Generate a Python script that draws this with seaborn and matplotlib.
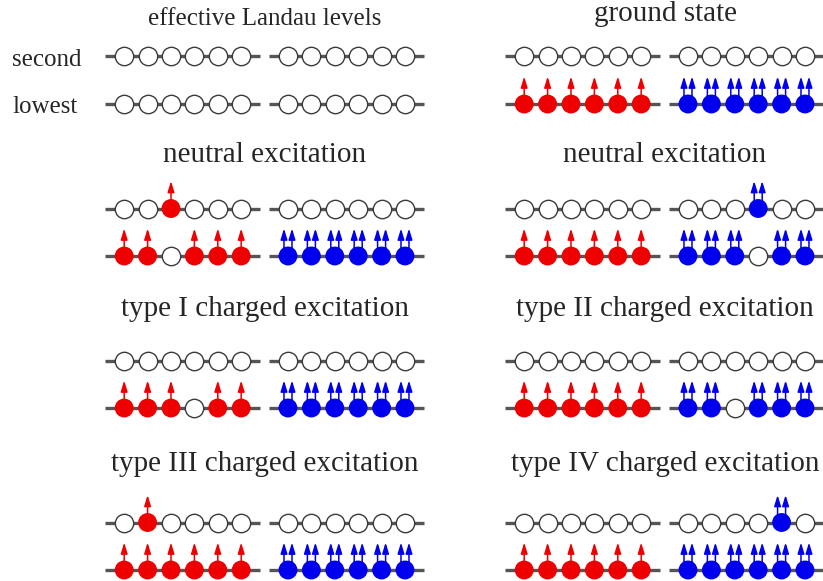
import pandas as pd
import matplotlib.pyplot as plt
import seaborn as sns

sns.set_theme(style="white")
plt.rcParams["font.family"] = ["Liberation Serif", "DejaVu Serif"]

RED = "#ee0000"
BLUE = "#0000ee"
LINE = "#555555"

titles = ["effective Landau levels", "ground state",
          "neutral excitation", "neutral excitation",
          "type I charged excitation", "type II charged excitation",
          "type III charged excitation", "type IV charged excitation"]

# occupation of the 6 sites, one list per panel (row by row, left then right)
red_lowest = [[0, 0, 0, 0, 0, 0], [1, 1, 1, 1, 1, 1],
              [1, 1, 0, 1, 1, 1], [1, 1, 1, 1, 1, 1],
              [1, 1, 1, 0, 1, 1], [1, 1, 1, 1, 1, 1],
              [1, 1, 1, 1, 1, 1], [1, 1, 1, 1, 1, 1]]
red_second = [[0, 0, 0, 0, 0, 0], [0, 0, 0, 0, 0, 0],
              [0, 0, 1, 0, 0, 0], [0, 0, 0, 0, 0, 0],
              [0, 0, 0, 0, 0, 0], [0, 0, 0, 0, 0, 0],
              [0, 1, 0, 0, 0, 0], [0, 0, 0, 0, 0, 0]]
blue_lowest = [[0, 0, 0, 0, 0, 0], [1, 1, 1, 1, 1, 1],
               [1, 1, 1, 1, 1, 1], [1, 1, 1, 0, 1, 1],
               [1, 1, 1, 1, 1, 1], [1, 1, 0, 1, 1, 1],
               [1, 1, 1, 1, 1, 1], [1, 1, 1, 1, 1, 1]]
blue_second = [[0, 0, 0, 0, 0, 0], [0, 0, 0, 0, 0, 0],
               [0, 0, 0, 0, 0, 0], [0, 0, 0, 1, 0, 0],
               [0, 0, 0, 0, 0, 0], [0, 0, 0, 0, 0, 0],
               [0, 0, 0, 0, 0, 0], [0, 0, 0, 0, 1, 0]]
level_names = ["lowest", "second"]

# layout (pixels)
W, H = 823, 581
SITE_PX = 23.4
GAP_PX = 47.5
row_lower_px = [104, 256, 408, 570]
col_left_px = [105, 505]
title_base_px = [(25, 21), (162, 162), (316, 316), (471, 471)]
PANEL_W = 320

fig = plt.figure(figsize=(W / 100, H / 100), dpi=100)

for i, title in enumerate(titles):
    row, col = i // 2, i % 2
    lower = row_lower_px[row]
    upper = lower - GAP_PX
    top, bottom = upper - 45, lower + 20
    ax = fig.add_axes([col_left_px[col] / W, 1 - bottom / H,
                       PANEL_W / W, (bottom - top) / H])

    recs = []
    for spin, start, lo, hi in [("red", 0, red_lowest[i], red_second[i]),
                                ("blue", 7, blue_lowest[i], blue_second[i])]:
        for lev, occ in enumerate([lo, hi]):
            ax.plot([start - 0.82, start + 5.8], [lev, lev], color=LINE,
                    lw=2.4, solid_capstyle="butt", zorder=1)
            for k, f in enumerate(occ):
                recs.append(dict(x=start + k, level=lev, filled=f, spin=spin))
    df = pd.DataFrame(recs)

    empty = df[df["filled"] == 0]
    filled = df[df["filled"] == 1]
    sns.scatterplot(data=empty, x="x", y="level", color="white",
                    edgecolor="#3a3a3a", linewidth=1.0, s=175, ax=ax,
                    zorder=3, legend=False)
    if len(filled):
        sns.scatterplot(data=filled, x="x", y="level", hue="spin",
                        palette={"red": RED, "blue": BLUE}, edgecolor="none",
                        s=185, ax=ax, zorder=3, legend=False)

    # spin arrows
    style = "-|>,head_length=0.65,head_width=0.2"
    dx = 4 / SITE_PX
    tip = 27.5 / GAP_PX
    for _, p in filled.iterrows():
        if p["spin"] == "red":
            ax.annotate("", xy=(p["x"], p["level"] + tip), xytext=(p["x"], p["level"]),
                        arrowprops=dict(arrowstyle=style, mutation_scale=10, color=RED,
                                        lw=1.1, shrinkA=0, shrinkB=0), zorder=2)
        else:
            base = p["level"] + 8 / GAP_PX
            ax.plot([p["x"] - dx, p["x"] + dx], [base, base], color=BLUE, lw=1.1, zorder=2)
            for sx in (p["x"] - dx, p["x"] + dx):
                ax.annotate("", xy=(sx, p["level"] + tip), xytext=(sx, base),
                            arrowprops=dict(arrowstyle=style, mutation_scale=10, color=BLUE,
                                            lw=1.1, shrinkA=0, shrinkB=0), zorder=2)

    ax.set_xlim(-0.82, -0.82 + PANEL_W / SITE_PX)
    ax.set_ylim(-20 / GAP_PX, 1 + 45 / GAP_PX)
    ax.axis("off")

    base_px = title_base_px[row][col]
    ax.text(-0.82 + 160 / SITE_PX, 1 + (upper - base_px) / GAP_PX, title,
            ha="center", va="baseline", fontsize=18 if i == 0 else 21)

    if i == 0:
        for lev, name in enumerate(level_names):
            ax.text(-0.82 - (col_left_px[0] - 12) / SITE_PX, lev - 9 / GAP_PX, name,
                    ha="left", va="baseline", fontsize=18)

fig.savefig("out.png", dpi=100)
